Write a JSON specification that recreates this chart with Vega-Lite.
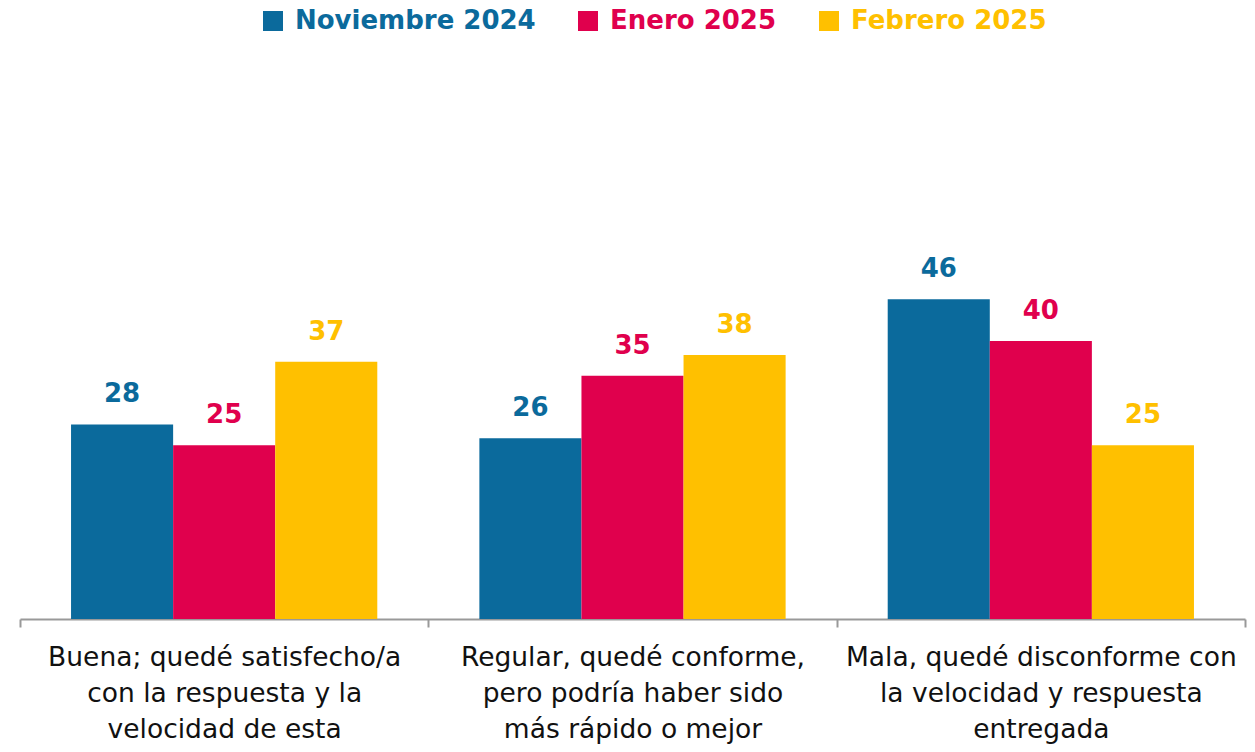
{
  "$schema": "https://vega.github.io/schema/vega-lite/v6.json",
  "width": 1225,
  "height": 556,
  "autosize": {"type": "none"},
  "padding": {"left": 20, "top": 63, "right": 10, "bottom": 133},
  "background": "white",
  "data": {
    "values": [
      {"categoria": "Buena; quedé satisfecho/a|con la respuesta y la|velocidad de esta", "periodo": "Noviembre 2024", "valor": 28},
      {"categoria": "Buena; quedé satisfecho/a|con la respuesta y la|velocidad de esta", "periodo": "Enero 2025", "valor": 25},
      {"categoria": "Buena; quedé satisfecho/a|con la respuesta y la|velocidad de esta", "periodo": "Febrero 2025", "valor": 37},
      {"categoria": "Regular, quedé conforme,|pero podría haber sido|más rápido o mejor", "periodo": "Noviembre 2024", "valor": 26},
      {"categoria": "Regular, quedé conforme,|pero podría haber sido|más rápido o mejor", "periodo": "Enero 2025", "valor": 35},
      {"categoria": "Regular, quedé conforme,|pero podría haber sido|más rápido o mejor", "periodo": "Febrero 2025", "valor": 38},
      {"categoria": "Mala, quedé disconforme con|la velocidad y respuesta|entregada", "periodo": "Noviembre 2024", "valor": 46},
      {"categoria": "Mala, quedé disconforme con|la velocidad y respuesta|entregada", "periodo": "Enero 2025", "valor": 40},
      {"categoria": "Mala, quedé disconforme con|la velocidad y respuesta|entregada", "periodo": "Febrero 2025", "valor": 25}
    ]
  },
  "encoding": {
    "x": {
      "field": "categoria",
      "type": "nominal",
      "sort": null,
      "scale": {"paddingInner": 0, "paddingOuter": 0},
      "axis": {
        "title": null,
        "labelAngle": 0,
        "labelExpr": "split(datum.label, '|')",
        "labelFont": "DejaVu Sans",
        "labelFontSize": 26.5,
        "labelColor": "#111111",
        "labelLineHeight": 36,
        "labelPadding": 17,
        "labelLimit": 0,
        "tickBand": "extent",
        "tickColor": "#999999",
        "tickWidth": 2,
        "tickSize": 8,
        "domainColor": "#999999",
        "domainWidth": 2,
        "grid": false
      }
    },
    "xOffset": {
      "field": "periodo",
      "type": "nominal",
      "sort": ["Noviembre 2024", "Enero 2025", "Febrero 2025"],
      "scale": {"paddingInner": 0, "paddingOuter": 0.5}
    },
    "y": {
      "field": "valor",
      "type": "quantitative",
      "scale": {"domain": [0, 80]},
      "axis": null
    },
    "color": {
      "field": "periodo",
      "type": "nominal",
      "sort": ["Noviembre 2024", "Enero 2025", "Febrero 2025"],
      "scale": {
        "domain": ["Noviembre 2024", "Enero 2025", "Febrero 2025"],
        "range": ["#0B6A9C", "#E0004D", "#FFC000"]
      },
      "legend": {
        "title": null,
        "orient": "none",
        "legendX": 236,
        "legendY": -59,
        "direction": "horizontal",
        "columns": 3,
        "symbolType": "square",
        "symbolSize": 400,
        "symbolStrokeWidth": 0,
        "symbolOpacity": 1,
        "labelFont": "DejaVu Sans",
        "labelFontSize": 26,
        "labelFontWeight": "bold",
        "labelLimit": 0,
        "labelOffset": 9,
        "columnPadding": 39,
        "padding": 4,
        "rowPadding": 0,
        "symbolOffset": 0,
        "encode": {
          "labels": {"update": {"fill": {"scale": "color", "field": "value"}}}
        }
      }
    }
  },
  "layer": [
    {"mark": {"type": "bar", "opacity": 1}},
    {
      "mark": {
        "type": "text",
        "baseline": "alphabetic",
        "dy": -22,
        "font": "DejaVu Sans",
        "fontSize": 26,
        "fontWeight": "bold"
      },
      "encoding": {"text": {"field": "valor", "type": "quantitative"}}
    }
  ],
  "config": {"view": {"stroke": null}}
}
